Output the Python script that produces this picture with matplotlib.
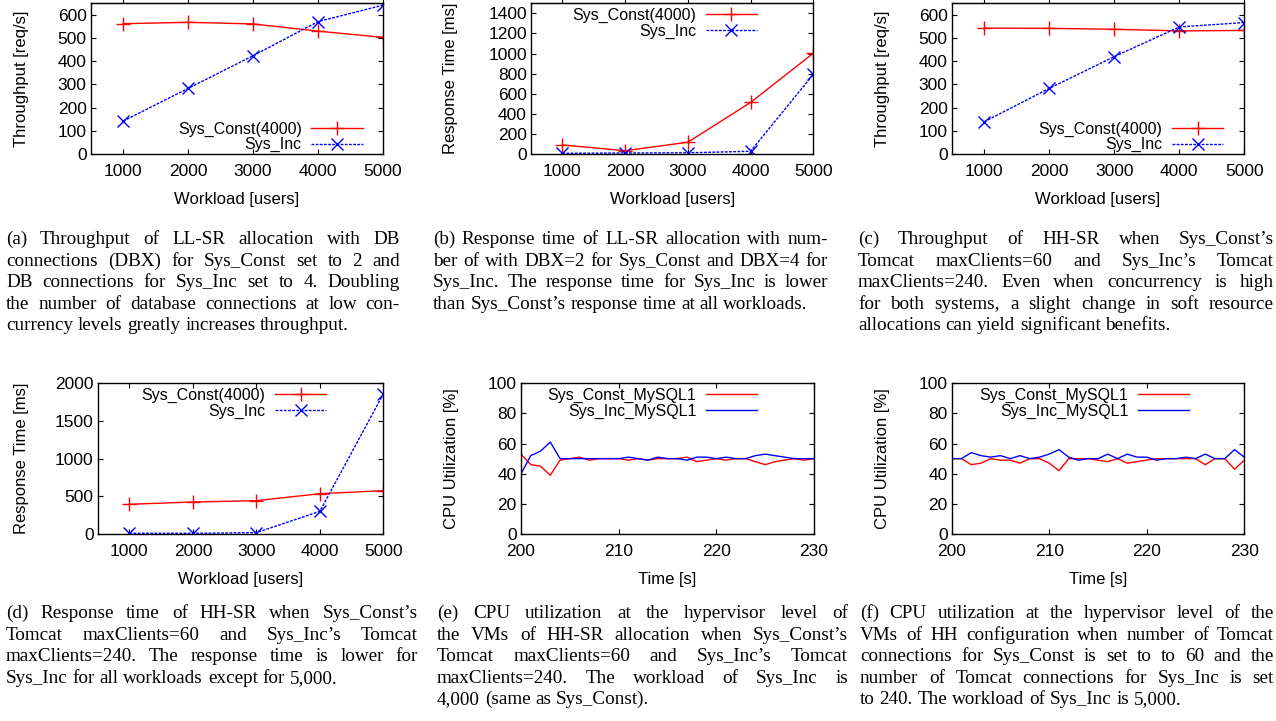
import numpy as np
import matplotlib.pyplot as plt

# Workload experiments (users)
workload = [1000, 2000, 3000, 4000, 5000]

# (a) throughput, LL-SR
tp_ll_const = [562, 568, 561, 530, 503]
tp_ll_inc = [142, 283, 424, 571, 642]
# (b) response time, LL-SR
rt_ll_const = [90, 33, 117, 513, 1003]
rt_ll_inc = [7, 10, 12, 27, 793]
# (c) throughput, HH-SR
tp_hh_const = [543, 542, 538, 531, 533]
tp_hh_inc = [139, 283, 420, 548, 567]
# (d) response time, HH-SR
rt_hh_const = [394, 425, 442, 535, 575]
rt_hh_inc = [9, 9, 18, 301, 1858]

# CPU utilization time series, 200..230 s
t_sec = list(range(200, 231))
cpu_e_const = [53, 46, 45, 39, 49, 50, 51, 49, 50, 50, 50, 49, 50, 49, 50, 50,
               50, 51, 48, 49, 50, 49, 50, 50, 48, 46, 48, 49, 50, 49, 50]
cpu_e_inc = [40, 52, 55, 61, 50, 50, 50, 50, 50, 50, 50, 51, 50, 49, 51, 50,
             50, 49, 51, 51, 50, 51, 50, 50, 52, 53, 52, 51, 50, 50, 50]
cpu_f_const = [50, 50, 46, 47, 50, 49, 49, 47, 50, 50, 47, 42, 50, 50, 50, 49,
               48, 50, 47, 48, 49, 50, 50, 50, 50, 50, 46, 50, 50, 43, 49]
cpu_f_inc = [50, 50, 54, 52, 51, 52, 50, 52, 50, 51, 53, 56, 51, 49, 50, 50,
             53, 50, 53, 51, 51, 49, 50, 50, 51, 50, 53, 50, 50, 56, 51]

captions = {
    'a': ["(a) Throughput of LL-SR allocation with DB",
          "connections (DBX) for Sys_Const set to 2 and",
          "DB connections for Sys_Inc set to 4. Doubling",
          "the number of database connections at low con-",
          "currency levels greatly increases throughput."],
    'b': ["(b) Response time of LL-SR allocation with num-",
          "ber of with DBX=2 for Sys_Const and DBX=4 for",
          "Sys_Inc. The response time for Sys_Inc is lower",
          "than Sys_Const\u2019s response time at all workloads."],
    'c': ["(c) Throughput of HH-SR when Sys_Const\u2019s",
          "Tomcat maxClients=60 and Sys_Inc\u2019s Tomcat",
          "maxClients=240. Even when concurrency is high",
          "for both systems, a slight change in soft resource",
          "allocations can yield significant benefits."],
    'd': ["(d) Response time of HH-SR when Sys_Const\u2019s",
          "Tomcat maxClients=60 and Sys_Inc\u2019s Tomcat",
          "maxClients=240. The response time is lower for",
          "Sys_Inc for all workloads except for 5,000."],
    'e': ["(e) CPU utilization at the hypervisor level of",
          "the VMs of HH-SR allocation when Sys_Const\u2019s",
          "Tomcat maxClients=60 and Sys_Inc\u2019s Tomcat",
          "maxClients=240. The workload of Sys_Inc is",
          "4,000 (same as Sys_Const)."],
    'f': ["(f) CPU utilization at the hypervisor level of the",
          "VMs of HH configuration when number of Tomcat",
          "connections for Sys_Const is set to to 60 and the",
          "number of Tomcat connections for Sys_Inc is set",
          "to 240. The workload of Sys_Inc is 5,000."],
}

plt.rcParams['font.family'] = ['Liberation Sans', 'DejaVu Sans']
plt.rcParams['font.size'] = 12

W, H = 1276, 721
fig = plt.figure(figsize=(W / 100, H / 100), dpi=100)

RED = '#ff0000'
BLUE = '#0000ff'
TICK = 12.5
TXT = 12
LEG = 11.5


def make_axes(x0, x1, y0, y1):
    # pixel box -> figure fraction
    return fig.add_axes([x0 / W, 1 - y1 / H, (x1 - x0) / W, (y1 - y0) / H])


def style(ax, top_row, ylabel, xlabel, ylab_x, xticks):
    ax.tick_params(direction='in', length=3.5, right=True, top=not top_row,
                   labelsize=TICK, width=0.8)
    ax.tick_params(axis='y', pad=3)
    ax.tick_params(axis='x', pad=7)
    ax.set_xticks(xticks)
    if top_row:
        sec = ax.secondary_xaxis('top')
        sec.set_xticks(xticks)
        sec.tick_params(direction='out', length=3, labeltop=False, width=0.8)
    for s in ax.spines.values():
        s.set_linewidth(1.0)
    ax.set_ylabel(ylabel, fontsize=TXT)
    ax.set_xlabel(xlabel, fontsize=TXT)
    ax.yaxis.set_label_coords(ylab_x, 0.5)
    ax.xaxis.set_label_coords(0.5, -0.25)


def add_key(ax, loc, anchor):
    ax.legend(loc=loc, bbox_to_anchor=anchor, frameon=False, markerfirst=False,
              handlelength=3.2, handletextpad=0.6, labelspacing=0.05, borderpad=0,
              borderaxespad=0, fontsize=LEG)


def workload_plot(ax, const, inc, ylim, yticks, ylabel, leg_loc, leg_anchor, top_row, ylab_x):
    ax.plot(workload, const, color=RED, lw=1.0, marker='+', ms=10, mew=1.0,
            label='Sys_Const(4000)')
    ax.plot(workload, inc, color=BLUE, lw=1.0, ls=(0, (2, 1)), marker='x', ms=9,
            mew=1.0, label='Sys_Inc')
    ax.set_xlim(500, 5000)
    ax.set_ylim(*ylim)
    ax.set_yticks(yticks)
    style(ax, top_row, ylabel, 'Workload [users]', ylab_x, workload)
    add_key(ax, leg_loc, leg_anchor)


def cpu_plot(ax, const, inc, leg_anchor, ylab_x):
    ax.plot(t_sec, const, color=RED, lw=1.0, label='Sys_Const_MySQL1')
    ax.plot(t_sec, inc, color=BLUE, lw=1.0, label='Sys_Inc_MySQL1')
    ax.set_xlim(200, 230)
    ax.set_ylim(0, 100)
    ax.set_yticks(range(0, 101, 20))
    style(ax, False, 'CPU Utilization [%]', 'Time [s]', ylab_x, [200, 210, 220, 230])
    add_key(ax, 'upper right', leg_anchor)


ax_a = make_axes(90.7, 383, 3.3, 154)
workload_plot(ax_a, tp_ll_const, tp_ll_inc, (0, 650), range(0, 601, 100),
              'Throughput [req/s]', 'lower right', (0.93, 0.01), True, -0.21)

ax_b = make_axes(531, 813.3, 3.3, 154)
workload_plot(ax_b, rt_ll_const, rt_ll_inc, (0, 1500), range(0, 1401, 200),
              'Response Time [ms]', 'upper right', (0.80, 0.97), True, -0.26)

ax_c = make_axes(951.7, 1244.3, 3.3, 154)
workload_plot(ax_c, tp_hh_const, tp_hh_inc, (0, 650), range(0, 601, 100),
              'Throughput [req/s]', 'lower right', (0.928, 0.01), True, -0.21)

ax_d = make_axes(97.7, 383.3, 383.3, 534)
workload_plot(ax_d, rt_hh_const, rt_hh_inc, (0, 2000), range(0, 2001, 500),
              'Response Time [ms]', 'upper right', (0.80, 0.97), False, -0.24)

ax_e = make_axes(521, 814, 383.3, 534)
cpu_plot(ax_e, cpu_e_const, cpu_e_inc, (0.806, 0.97), -0.21)

ax_f = make_axes(951.7, 1244.3, 383.3, 534)
cpu_plot(ax_f, cpu_f_const, cpu_f_inc, (0.811, 0.97), -0.21)

# justified captions in serif type
renderer = fig.canvas.get_renderer()
CAP_SIZE = 13.8
CAP_FONT = 'Liberation Serif'


def text_width(s):
    t = fig.text(0, 0, s, fontsize=CAP_SIZE, family=CAP_FONT)
    w = t.get_window_extent(renderer).width
    t.remove()
    return w


space_w = text_width('x x') - text_width('xx')


def caption(lines, x0, x1, base0, dy=21.6):
    for i, line in enumerate(lines):
        words = line.split(' ')
        y = 1 - (base0 + i * dy) / H
        texts = [fig.text(0, y, w, fontsize=CAP_SIZE, family=CAP_FONT, va='baseline')
                 for w in words]
        widths = [t.get_window_extent(renderer).width for t in texts]
        if i < len(lines) - 1 and len(words) > 1:
            gap = (x1 - x0 - sum(widths)) / (len(words) - 1)
        else:
            gap = space_w
        x = x0
        for t, w in zip(texts, widths):
            t.set_x(x / W)
            x += w + gap


caption(captions['a'], 6, 400, 244)
caption(captions['b'], 433, 828, 244)
caption(captions['c'], 858, 1274, 244)
caption(captions['d'], 6, 418, 618)
caption(captions['e'], 437, 848, 618)
caption(captions['f'], 860, 1274, 618)

fig.savefig('out.png', dpi=100)
